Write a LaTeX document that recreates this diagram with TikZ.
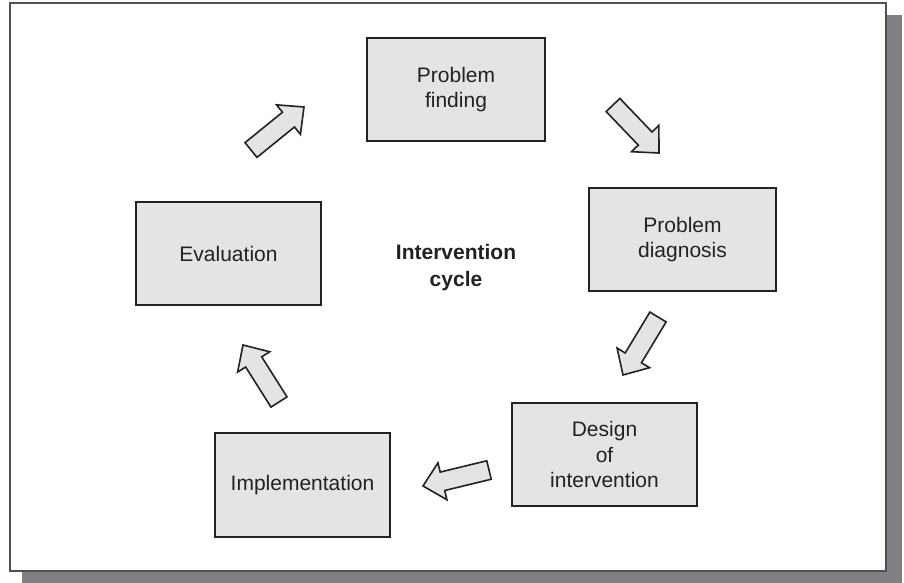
\documentclass[tikz,border=0pt]{standalone}
\usepackage{fontspec}
\setmainfont{Liberation Sans}
\usetikzlibrary{calc}
\definecolor{boxfill}{HTML}{E3E4E6}
\definecolor{ink}{HTML}{222222}
\definecolor{shadowgray}{HTML}{808084}
\definecolor{framegray}{HTML}{505050}
\tikzset{
  stagebox/.style={draw=ink, line width=0.9pt, fill=boxfill, align=center,
    text=ink, inner sep=0pt, minimum height=51.5pt,
    font=\fontsize{10.5}{12.8}\selectfont},
  blockarrow/.style={draw=ink, line width=0.8pt, fill=boxfill, line join=miter},
}
\newcommand{\blockarrow}[2]{%
  \coordinate (hb) at ($(#2)!10pt!(#1)$);
  \draw[blockarrow] ($(#1)!4.75pt!90:(#2)$) -- ($(hb)!4.75pt!-90:(#1)$)
    -- ($(hb)!9.5pt!-90:(#1)$) -- (#2) -- ($(hb)!9.5pt!90:(#1)$)
    -- ($(hb)!4.75pt!90:(#1)$) -- ($(#1)!4.75pt!-90:(#2)$) -- cycle;
}
\begin{document}
\begin{tikzpicture}[x=0.5pt,y=-0.5pt]
\useasboundingbox (0,0) rectangle (904,583);
% frame with shadow
\fill[shadowgray] (22,15) rectangle (902,583);
\draw[framegray, fill=white, line width=1pt] (10,3) rectangle (886,571);
% stages
\node[stagebox, minimum width=89pt] (pf) at (456,89.5) {Problem\\finding};
\node[stagebox, minimum width=93.5pt] (pd) at (682.5,239.5) {Problem\\diagnosis};
\node[stagebox, minimum width=92.5pt] (di) at (604.5,454.5) {Design\\of\\intervention};
\node[stagebox, minimum width=87.5pt, minimum height=52pt] (im) at (302.5,485) {Implementation};
\node[stagebox, minimum width=92.5pt] (ev) at (228.5,253.5) {Evaluation};
\node[align=center, text=ink, font=\fontsize{10.5}{13.5}\selectfont\bfseries] (title) at (456,268) {Intervention\\cycle};
% arrow ends
\coordinate (a1t) at (251,150); \coordinate (a1h) at (304,107);
\coordinate (a2t) at (613,105); \coordinate (a2h) at (659,153);
\coordinate (a3t) at (658,317); \coordinate (a3h) at (623,375);
\coordinate (a4t) at (489,470); \coordinate (a4h) at (423,486);
\coordinate (a5t) at (279,402); \coordinate (a5h) at (243,345);
\blockarrow{a1t}{a1h}
\blockarrow{a2t}{a2h}
\blockarrow{a3t}{a3h}
\blockarrow{a4t}{a4h}
\blockarrow{a5t}{a5h}
\end{tikzpicture}
\end{document}
